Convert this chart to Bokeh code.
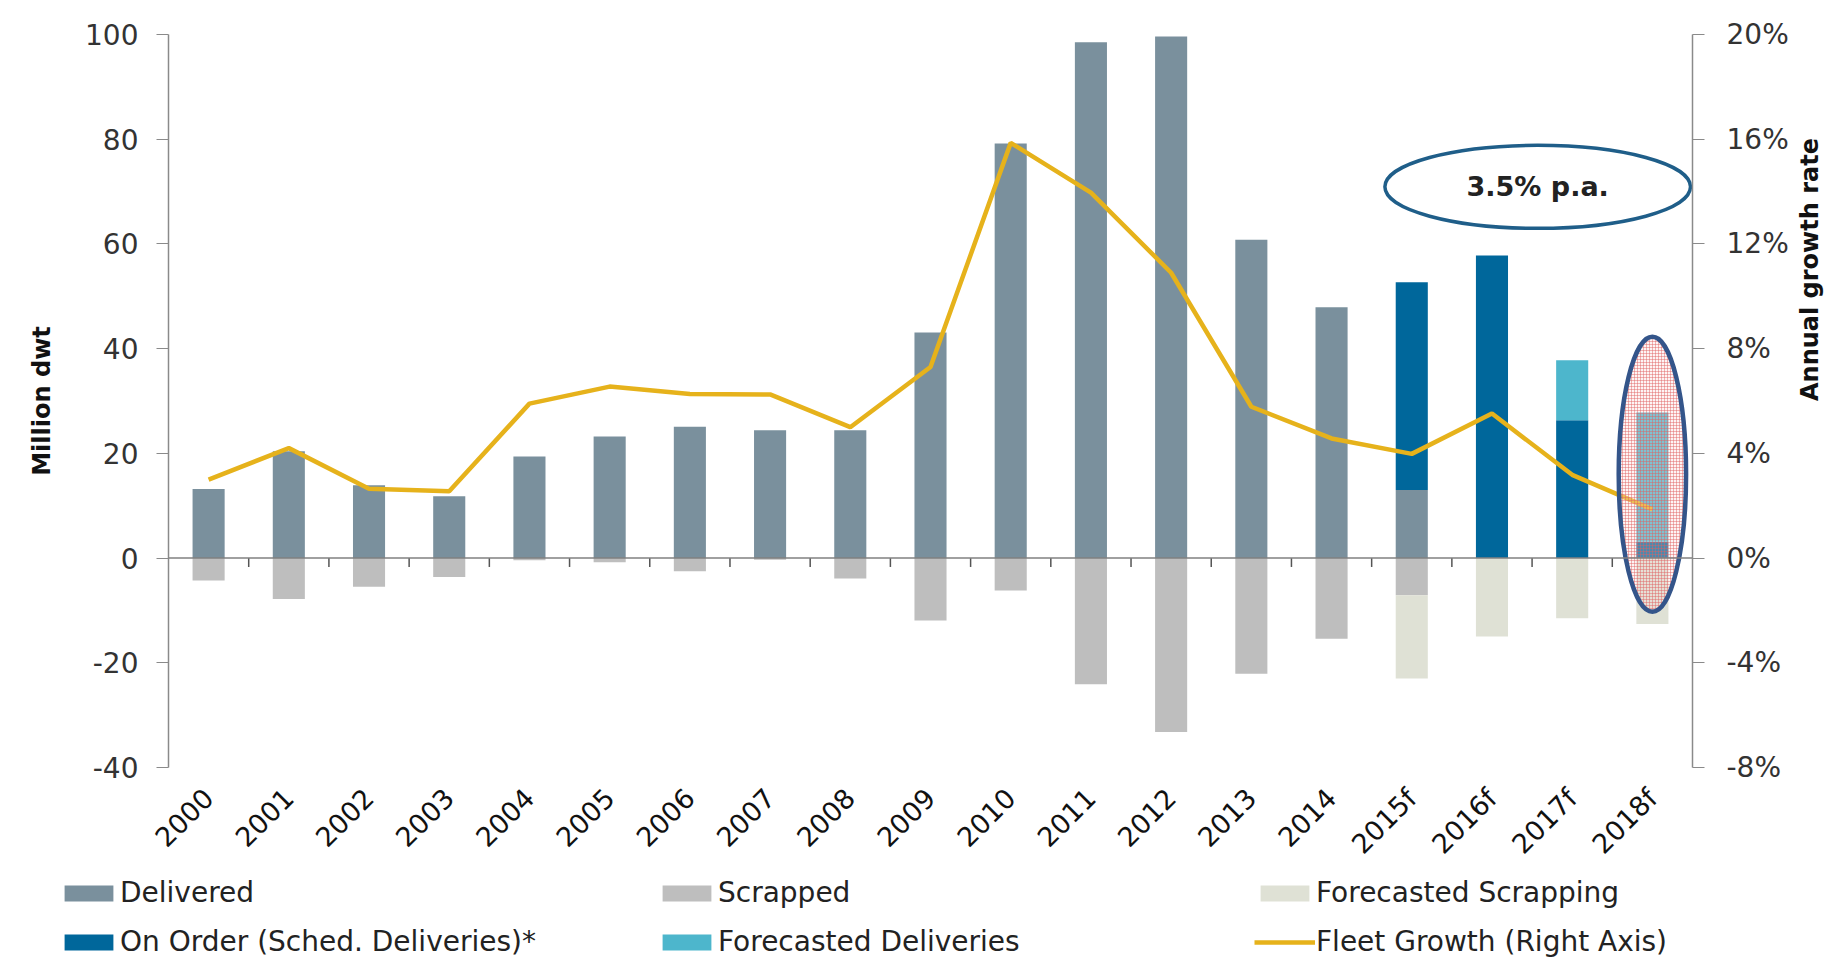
import math
import numpy as np
from bokeh.plotting import figure
from bokeh.layouts import column
from bokeh.models import (Range1d, LinearAxis, FixedTicker, PrintfTickFormatter,
                          Legend, LegendItem, Span)
from bokeh.core.properties import value
from bokeh.embed import file_html
from bokeh.resources import INLINE

# ---------------- data ----------------
years = ["2000", "2001", "2002", "2003", "2004", "2005", "2006", "2007", "2008",
         "2009", "2010", "2011", "2012", "2013", "2014", "2015f", "2016f", "2017f", "2018f"]
delivered = [13.2, 20.4, 13.9, 11.8, 19.4, 23.2, 25.1, 24.4, 24.4, 43.1,
             79.2, 98.5, 99.6, 60.8, 47.9, 13.0, 0, 0, 0]
on_order = [0, 0, 0, 0, 0, 0, 0, 0, 0, 0, 0, 0, 0, 0, 0, 39.7, 57.8, 26.3, 3.1]
forecast_deliveries = [0, 0, 0, 0, 0, 0, 0, 0, 0, 0, 0, 0, 0, 0, 0, 0, 0, 11.5, 24.7]
scrapped = [-4.3, -7.8, -5.5, -3.6, -0.4, -0.8, -2.5, -0.3, -3.9, -11.9,
            -6.2, -24.1, -33.2, -22.1, -15.4, -7.1, 0, 0, 0]
forecast_scrapping = [0, 0, 0, 0, 0, 0, 0, 0, 0, 0, 0, 0, 0, 0, 0, -15.9, -15.0, -11.5, -12.6]
fleet_growth = [3.0, 4.2, 2.65, 2.55, 5.9, 6.55, 6.27, 6.25, 5.0, 7.3,
                15.86, 13.96, 10.9, 5.78, 4.57, 3.98, 5.52, 3.18, 1.86]

left_ticks = [-40, -20, 0, 20, 40, 60, 80, 100]
right_ticks = [-8, -4, 0, 4, 8, 12, 16, 20]

annotation_text = "3.5% p.a."

# ---------------- styles ----------------
C_DEL = "#7A909D"
C_SCR = "#BEBEBE"
C_FS = "#DFE1D5"
C_OO = "#00679B"
C_FD = "#4DB6CC"
C_LINE = "#E6B21B"
C_AXIS = "#8A8A8A"
C_TEXT = "#333333"
FONT = "DejaVu Sans"
BAR_W = 0.4
LINE_W = 4.5

x = np.arange(len(years))
d = np.array(delivered, dtype=float)
oo = np.array(on_order, dtype=float)
fd = np.array(forecast_deliveries, dtype=float)
s = np.array(scrapped, dtype=float)
fs = np.array(forecast_scrapping, dtype=float)

p = figure(frame_width=1524, frame_height=733, output_backend="svg", toolbar_location=None,
           x_range=Range1d(-0.5, len(years) - 0.5), y_range=Range1d(-40, 100),
           min_border_left=168, min_border_right=126, min_border_top=34,
           min_border_bottom=90)
p.extra_y_ranges = {"pct": Range1d(-8, 20)}
p.xgrid.visible = False
p.ygrid.visible = False
p.outline_line_color = None
p.background_fill_color = "white"
p.border_fill_color = "white"


def stacked_bars(fig, mask, bottom, top, color):
    return fig.vbar(x=x[mask], bottom=bottom[mask], top=top[mask], width=BAR_W,
                    fill_color=color, line_color=None)


def all_bars(fig):
    zero = np.zeros_like(d)
    return dict(
        delivered=stacked_bars(fig, d > 0, zero, d, C_DEL),
        on_order=stacked_bars(fig, oo > 0, d, d + oo, C_OO),
        forecast_deliveries=stacked_bars(fig, fd > 0, d + oo, d + oo + fd, C_FD),
        scrapped=stacked_bars(fig, s < 0, zero, s, C_SCR),
        forecast_scrapping=stacked_bars(fig, fs < 0, s, s + fs, C_FS),
    )


all_bars(p)

# zero line with category boundary ticks
p.add_layout(Span(location=0, dimension="width", line_color="#808080", line_width=1.5))
bounds = x[:-1] + 0.5
p.segment(x0=bounds, y0=np.zeros_like(bounds), x1=bounds, y1=np.full_like(bounds, -1.7),
          line_color="#555555", line_width=1.5)

p.line(x=x, y=fleet_growth, y_range_name="pct", line_color=C_LINE, line_width=LINE_W)

# annotations
p.ellipse(x=[16.57], y=[70.9], width=[3.81], height=[15.85], fill_color=None,
          line_color="#1F5E89", line_width=3.5)
p.text(x=[16.57], y=[70.9], text=[annotation_text], text_align="center",
       text_baseline="middle", text_font=value(FONT), text_font_style="bold",
       text_font_size="27px", text_color="#222222")
p.ellipse(x=[18], y=[16.0], width=[0.84], height=[52.5], fill_color="#F8DADA",
          fill_alpha=0.3, hatch_pattern="cross", hatch_color="#E06060",
          hatch_alpha=0.45, hatch_scale=3, hatch_weight=1,
          line_color="#34558A", line_width=4.5)

# x axis
xa = p.xaxis[0]
xa.ticker = FixedTicker(ticks=list(x))
xa.major_label_overrides = {int(i): yv for i, yv in zip(x, years)}
xa.major_label_orientation = math.pi / 4
xa.major_tick_line_color = None
xa.minor_tick_line_color = None
xa.axis_line_color = None
xa.major_label_text_font = FONT
xa.major_label_text_font_size = "27px"
xa.major_label_text_color = "#111111"
xa.major_label_standoff = 20

# left axis
ya = p.yaxis[0]
ya.ticker = FixedTicker(ticks=left_ticks)
ya.formatter = PrintfTickFormatter(format="%d")
ya.axis_line_color = C_AXIS
ya.axis_line_width = 1.5
ya.major_tick_line_color = C_AXIS
ya.major_tick_out = 12
ya.major_tick_in = 0
ya.minor_tick_line_color = None
ya.major_label_text_font = FONT
ya.major_label_text_font_size = "28px"
ya.major_label_text_color = C_TEXT
ya.major_label_standoff = 18
ya.axis_label = "Million dwt"
ya.axis_label_text_font = FONT
ya.axis_label_text_font_style = "bold"
ya.axis_label_text_font_size = "24px"
ya.axis_label_text_color = "#111111"
ya.axis_label_standoff = 26

# right axis
ra = LinearAxis(y_range_name="pct", ticker=FixedTicker(ticks=right_ticks),
                formatter=PrintfTickFormatter(format="%d%%"))
ra.axis_line_color = C_AXIS
ra.axis_line_width = 1.5
ra.major_tick_line_color = C_AXIS
ra.major_tick_out = 12
ra.major_tick_in = 0
ra.minor_tick_line_color = None
ra.major_label_text_font = FONT
ra.major_label_text_font_size = "28px"
ra.major_label_text_color = C_TEXT
ra.major_label_standoff = 22
ra.axis_label = "Annual growth rate"
ra.axis_label_orientation = math.pi / 2
ra.axis_label_text_font = FONT
ra.axis_label_text_font_style = "bold"
ra.axis_label_text_font_size = "24px"
ra.axis_label_text_color = "#111111"
ra.axis_label_standoff = 18
p.add_layout(ra, "right")

# ---------------- legend strip (key renderers lie outside its visible range) ----------------
lg = figure(width=1818, height=95, output_backend="svg", toolbar_location=None,
            x_range=Range1d(-0.5, len(years) - 0.5), y_range=Range1d(500, 501),
            min_border=0)
lg.axis.visible = False
lg.grid.visible = False
lg.outline_line_color = None
lg.background_fill_color = "white"
lg.border_fill_color = "white"

keys = all_bars(lg)
k_line = lg.line(x=x, y=fleet_growth, line_color=C_LINE, line_width=LINE_W)

legend = Legend(items=[
    LegendItem(label="Delivered", renderers=[keys["delivered"]]),
    LegendItem(label="Scrapped", renderers=[keys["scrapped"]]),
    LegendItem(label="Forecasted Scrapping", renderers=[keys["forecast_scrapping"]]),
    LegendItem(label="On Order (Sched. Deliveries)*", renderers=[keys["on_order"]]),
    LegendItem(label="Forecasted Deliveries", renderers=[keys["forecast_deliveries"]]),
    LegendItem(label="Fleet Growth (Right Axis)", renderers=[k_line]),
], location=(58, 10), orientation="horizontal", ncols=3)
legend.label_text_font = FONT
legend.label_text_font_size = "28px"
legend.label_text_color = "#222222"
legend.glyph_width = 61
legend.glyph_height = 20
legend.label_standoff = 1
legend.spacing = 16
legend.padding = 0
legend.margin = 0
legend.label_width = 520
legend.border_line_color = None
legend.background_fill_alpha = 0
lg.add_layout(legend)

layout = column(p, column(lg), spacing=0)
open("out.html", "w").write(file_html(layout, INLINE))
